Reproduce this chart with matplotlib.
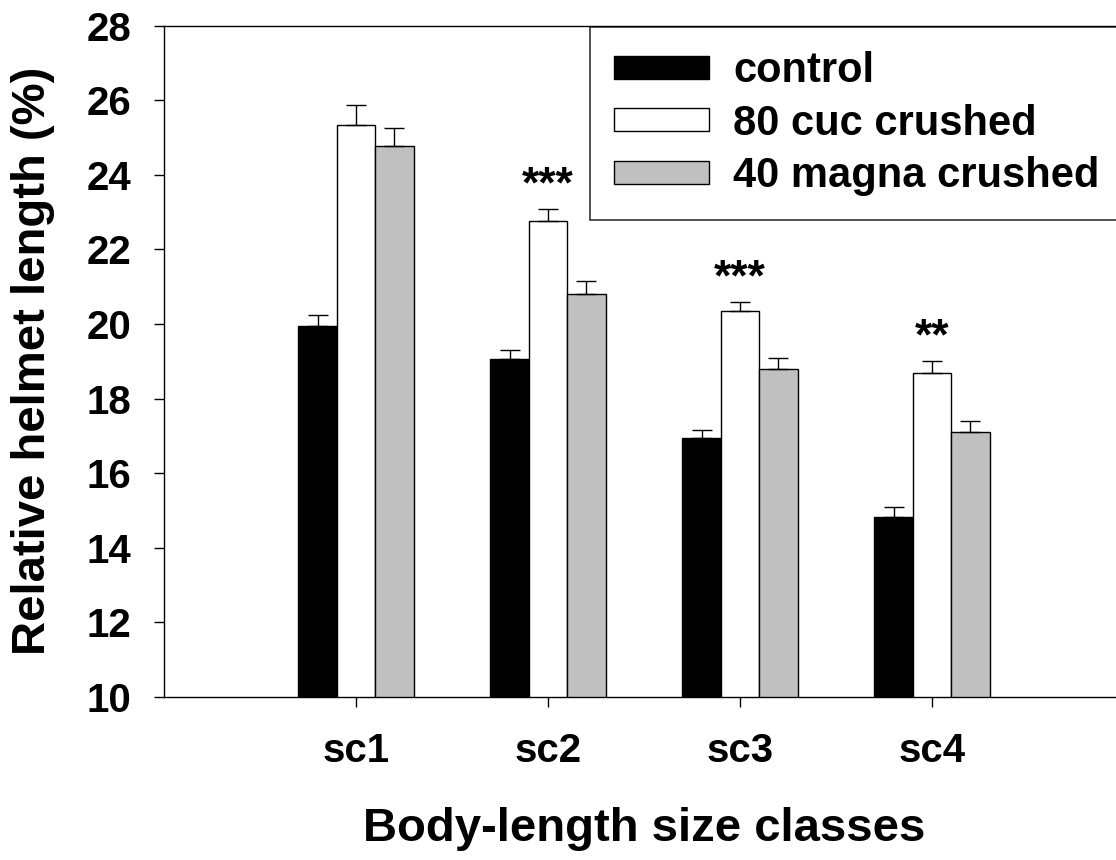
import numpy as np
import matplotlib
matplotlib.use("Agg")
import matplotlib.pyplot as plt
from matplotlib.patches import Patch

plt.rcParams['font.family'] = ['Liberation Sans', 'DejaVu Sans']
plt.rcParams['font.weight'] = 'bold'

# relative helmet length (%) per body-length size class, mean and SE
size_classes = ["sc1", "sc2", "sc3", "sc4"]
treatments = ["control", "80 cuc crushed", "40 magna crushed"]
control_mean = [19.95, 19.05, 16.94, 14.82]
control_se = [0.28, 0.24, 0.22, 0.27]
cuc_mean = [25.33, 22.77, 20.34, 18.68]
cuc_se = [0.54, 0.31, 0.26, 0.34]
magna_mean = [24.78, 20.80, 18.78, 17.10]
magna_se = [0.48, 0.35, 0.31, 0.31]
# significance marks over the cuc bars
sig_marks = ["", "***", "***", "**"]

bar_colors = ["black", "white", "#c0c0c0"]

fig = plt.figure(figsize=(11.16, 8.6), dpi=100)
ax = fig.add_axes([0.14695, 0.18953, 0.86022, 0.78081])

x = np.arange(1, len(size_classes) + 1)
width = 0.2
means = [control_mean, cuc_mean, magna_mean]
ses = [control_se, cuc_se, magna_se]
for i, (m, s) in enumerate(zip(means, ses)):
    ax.bar(x + (i - 1) * width, m, width, bottom=0,
           color=bar_colors[i], edgecolor="black", linewidth=1.0,
           yerr=[np.zeros(len(s)), s],
           error_kw=dict(ecolor="black", elinewidth=1.0, capsize=7.2, capthick=1.0),
           zorder=2)

# stars sit a little above the cuc error bar
for xi, mk, m, s in zip(x, sig_marks, cuc_mean, cuc_se):
    if mk:
        ax.text(xi, m + s + 0.3, mk, ha="center", va="baseline",
                fontsize=32, fontweight="bold")

ax.set_xlim(0, 5)
ax.set_ylim(10, 28)
ax.set_yticks(np.arange(10, 29, 2))
ax.set_xticks(x)
ax.set_xticklabels(size_classes)

for side in ["left", "bottom", "top", "right"]:
    ax.spines[side].set_linewidth(1.0)

ax.tick_params(axis="both", direction="out", length=7.5, width=1.0,
               labelsize=29)
ax.tick_params(axis="y", pad=16)
ax.tick_params(axis="x", pad=18)
for lbl in ax.get_xticklabels() + ax.get_yticklabels():
    lbl.set_fontweight("bold")

fig.text(33 / 1116, 1 - 361 / 860, "Relative helmet length (%)",
         rotation=90, ha="center", va="center", fontsize=34, fontweight="bold")
fig.text(644 / 1116, 1 - 829 / 860, "Body-length size classes",
         ha="center", va="center", fontsize=34, fontweight="bold")

handles = [Patch(facecolor=c, edgecolor="black", linewidth=1.0) for c in bar_colors]
leg = ax.legend(handles, treatments, loc="upper left",
                bbox_to_anchor=(590 / 1116, 1 - 27 / 860 - 0.01, 0.5, 0.01),
                bbox_transform=fig.transFigure, mode="expand",
                borderaxespad=0, frameon=True, fancybox=False,
                handlelength=2.28, handleheight=0.48, handletextpad=0.58,
                labelspacing=0.3, borderpad=0.58,
                prop=dict(weight="bold", size=30))
leg.get_frame().set_edgecolor("black")
leg.get_frame().set_linewidth(1.2)

fig.savefig("out.png", dpi=100)
